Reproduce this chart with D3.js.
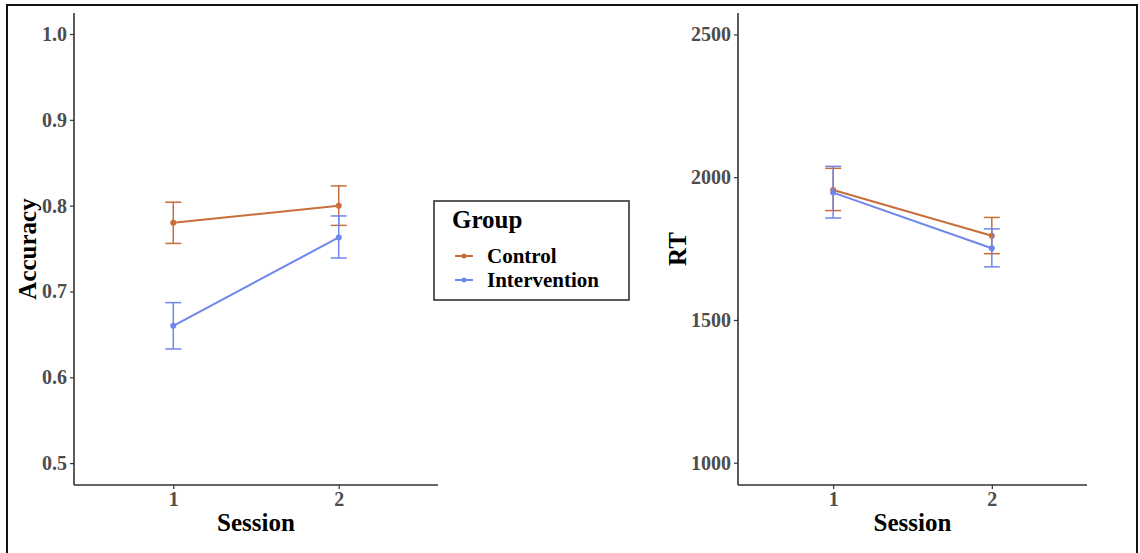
<!DOCTYPE html>
<html><head><meta charset="utf-8">
<script src="https://cdn.jsdelivr.net/npm/d3@7"></script>
<style>body{margin:0;background:#fff}svg{display:block}</style>
</head><body>
<script>
const sessions = ["1","2"];
const groups = ["Control","Intervention"];
const groupColors = ["#c96d3b","#6e87ec"];
// Accuracy panel
const accMean  = {Control:[0.780,0.800], Intervention:[0.660,0.763]};
const accLow   = {Control:[0.756,0.777], Intervention:[0.633,0.739]};
const accHigh  = {Control:[0.804,0.823], Intervention:[0.687,0.788]};
const accTicks = [0.5,0.6,0.7,0.8,0.9,1.0];
// RT panel
const rtMean  = {Control:[1955,1795], Intervention:[1946,1751]};
const rtLow   = {Control:[1883,1732], Intervention:[1857,1686]};
const rtHigh  = {Control:[2031,1859], Intervention:[2038,1819]};
const rtTicks = [1000,1500,2000,2500];

const W=1140,H=553;
const svg=d3.select("body").append("svg").attr("width",W).attr("height",H);
svg.append("rect").attr("x",7).attr("y",5).attr("width",1130).attr("height",560)
  .attr("fill","none").attr("stroke","#111").attr("stroke-width",2);

const FONT="'Liberation Serif','Times New Roman',serif";
const color=d3.scaleOrdinal().domain(groups).range(groupColors);

function panel(opt){
  const {x0,x1,y0,y1,domain,ticks,fmt,mean,low,high,title,titleX}=opt;
  const x=d3.scalePoint().domain(sessions).range([x0,x1]).padding(0.6);
  const y=d3.scaleLinear().domain(domain).range([y1,y0]);
  const g=svg.append("g");
  const ya=g.append("g").attr("transform",`translate(${x0},0)`)
    .call(d3.axisLeft(y).tickValues(ticks).tickFormat(fmt).tickSize(4).tickPadding(3));
  const xa=g.append("g").attr("transform",`translate(0,${y1})`)
    .call(d3.axisBottom(x).tickSize(4).tickPadding(3));
  [ya,xa].forEach(a=>{
    a.select(".domain").attr("stroke","#333").attr("stroke-width",1.6);
    a.selectAll(".tick line").attr("stroke","#333").attr("stroke-width",1.2);
    a.selectAll(".tick text").attr("fill","#4d4d4d").attr("font-family",FONT)
      .attr("font-weight","bold").attr("font-size",20);
  });
  ya.select(".domain").attr("d",`M0,${y1}V${y0}`);
  xa.select(".domain").attr("d",`M${x0},0H${x1}`);
  g.append("text").attr("x",(x0+x1)/2).attr("y",531).attr("text-anchor","middle")
    .attr("font-family",FONT).attr("font-weight","bold").attr("font-size",25).text("Session");
  g.append("text").attr("transform",`translate(${titleX},${(y0+y1)/2}) rotate(-90)`)
    .attr("text-anchor","middle").attr("dominant-baseline","central")
    .attr("font-family",FONT).attr("font-weight","bold").attr("font-size",25).text(title);
  groups.forEach(gr=>{
    const c=color(gr);
    const pts=sessions.map((s,i)=>({s,m:mean[gr][i],lo:low[gr][i],hi:high[gr][i]}));
    pts.forEach(p=>{
      const cx=x(p.s);
      const eb=g.append("g").attr("stroke",c).attr("stroke-width",1.5).attr("fill","none");
      eb.append("line").attr("x1",cx).attr("x2",cx).attr("y1",y(p.lo)).attr("y2",y(p.hi));
      eb.append("line").attr("x1",cx-8).attr("x2",cx+8).attr("y1",y(p.lo)).attr("y2",y(p.lo));
      eb.append("line").attr("x1",cx-8).attr("x2",cx+8).attr("y1",y(p.hi)).attr("y2",y(p.hi));
    });
    g.append("path").datum(pts).attr("fill","none").attr("stroke",c).attr("stroke-width",2)
      .attr("d",d3.line().x(p=>x(p.s)).y(p=>y(p.m)));
    g.selectAll(null).data(pts).join("circle").attr("cx",p=>x(p.s)).attr("cy",p=>y(p.m))
      .attr("r",3).attr("fill",c);
  });
}

panel({x0:74,x1:438,y0:13,y1:485,domain:[0.4745,1.0245],ticks:accTicks,fmt:d3.format(".1f"),
  mean:accMean,low:accLow,high:accHigh,title:"Accuracy",titleX:27});
panel({x0:738,x1:1087,y0:13,y1:485,domain:[922,2575],ticks:rtTicks,fmt:d3.format("d"),
  mean:rtMean,low:rtLow,high:rtHigh,title:"RT",titleX:677});

const lg=svg.append("g");
lg.append("rect").attr("x",434).attr("y",201).attr("width",195).attr("height",99)
  .attr("fill","#fff").attr("stroke","#333").attr("stroke-width",1.6);
lg.append("text").attr("x",452).attr("y",228).attr("font-family",FONT).attr("font-weight","bold")
  .attr("font-size",25).text("Group");
groups.forEach((gr,i)=>{
  const yy=256+i*24;
  lg.append("line").attr("x1",455).attr("x2",473).attr("y1",yy).attr("y2",yy)
    .attr("stroke",color(gr)).attr("stroke-width",2);
  lg.append("circle").attr("cx",464).attr("cy",yy).attr("r",2.5).attr("fill",color(gr));
  lg.append("text").attr("x",487).attr("y",yy).attr("dominant-baseline","central")
    .attr("font-family",FONT).attr("font-weight","bold").attr("font-size",21).text(gr);
});
</script>
</body></html>
